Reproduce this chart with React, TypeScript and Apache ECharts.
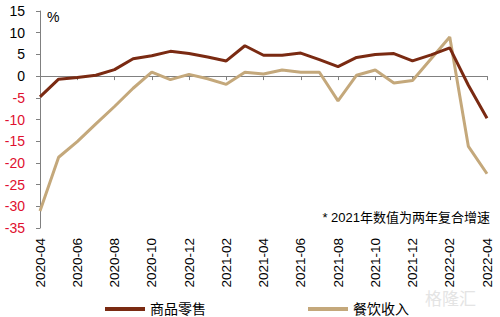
import React, { useEffect, useRef } from "react";
import * as echarts from "echarts";

const categories = [
  "2020-04", "2020-05", "2020-06", "2020-07", "2020-08", "2020-09", "2020-10", "2020-11", "2020-12",
  "2021-01", "2021-02", "2021-03", "2021-04", "2021-05", "2021-06", "2021-07", "2021-08", "2021-09",
  "2021-10", "2021-11", "2021-12", "2022-01", "2022-02", "2022-03", "2022-04",
];
const goodsRetail = [
  -4.8, -0.7, -0.3, 0.2, 1.5, 4.0, 4.7, 5.7, 5.2,
  4.4, 3.5, 7.0, 4.8, 4.8, 5.3, 3.8, 2.2, 4.3,
  5.0, 5.2, 3.5, 4.9, 6.5, -2.1, -9.7,
];
const catering = [
  -31.1, -18.7, -15.1, -11.0, -7.0, -2.8, 0.9, -0.8, 0.4,
  -0.6, -1.9, 0.9, 0.5, 1.4, 0.9, 0.9, -5.7, 0.2,
  1.4, -1.6, -1.0, 4.0, 9.0, -16.2, -22.5,
];
const seriesNames = ["商品零售", "餐饮收入"];
const note = "* 2021年数值为两年复合增速";
const unit = "%";

const FONT = "'Liberation Sans', Arial, 'Noto Sans CJK SC', sans-serif";

export default function App() {
  const ref = useRef<HTMLDivElement>(null);
  useEffect(() => {
    if (!ref.current) return;
    const chart = echarts.init(ref.current, null, { renderer: "svg" });
    chart.setOption({
      animation: false,
      backgroundColor: "#fff",
      textStyle: { fontFamily: FONT },
      grid: { left: 40, right: 13, top: 11, bottom: 89, containLabel: false },
      legend: {
        left: 100,
        top: 296,
        itemWidth: 40,
        itemHeight: 4,
        itemGap: 102,
        icon: "rect",
        textStyle: { fontSize: 14, lineHeight: 16, color: "#000", fontFamily: FONT },
        data: seriesNames,
      },
      xAxis: [
        {
          type: "category",
          data: categories,
          boundaryGap: false,
          position: "bottom",
          axisLine: { show: false, onZero: false },
          axisTick: { show: false },
          axisLabel: {
            interval: 1,
            rotate: 90,
            margin: 10,
            fontSize: 13.5,
            color: "#000",
            fontFamily: FONT,
          },
        },
        {
          type: "category",
          data: categories,
          boundaryGap: false,
          position: "bottom",
          axisLine: { show: true, onZero: true, lineStyle: { color: "#808080", width: 1 } },
          axisTick: { show: true, interval: 1, length: 4, lineStyle: { color: "#808080" } },
          axisLabel: { show: false },
        },
      ],
      yAxis: {
        type: "value",
        min: -35,
        max: 15,
        interval: 5,
        splitLine: { show: false },
        axisLine: { show: true, onZero: false, lineStyle: { color: "#808080", width: 1 } },
        axisTick: { show: true, length: 4, lineStyle: { color: "#808080" } },
        axisLabel: {
          margin: 15,
          fontSize: 14,
          fontFamily: FONT,
          color: (v: any) => (Number(v) < 0 ? "#E0102F" : "#000"),
        },
      },
      series: [
        {
          name: seriesNames[0],
          type: "line",
          xAxisIndex: 0,
          data: goodsRetail,
          symbol: "none",
          color: "#7A2A12",
          lineStyle: { width: 3, color: "#7A2A12" },
          z: 3,
        },
        {
          name: seriesNames[1],
          type: "line",
          xAxisIndex: 0,
          data: catering,
          symbol: "none",
          color: "#C4A87B",
          lineStyle: { width: 3, color: "#C4A87B" },
          z: 2,
        },
      ],
      graphic: [
        {
          type: "text",
          left: 47,
          top: 10,
          style: { text: unit, fontSize: 14, fill: "#000", fontFamily: FONT },
        },
        {
          type: "text",
          right: 10,
          top: 211,
          style: { text: note, fontSize: 13, fill: "#000", fontFamily: FONT },
        },
        {
          type: "text",
          left: 425,
          top: 291,
          style: { text: "格隆汇", fontSize: 17, fill: "#e4e4e4", fontFamily: FONT },
          z: 0,
        },
      ],
    });
    return () => chart.dispose();
  }, []);
  return (
    <div
      ref={ref}
      style={{ position: "fixed", left: 0, top: 0, width: 500, height: 317 }}
    />
  );
}
